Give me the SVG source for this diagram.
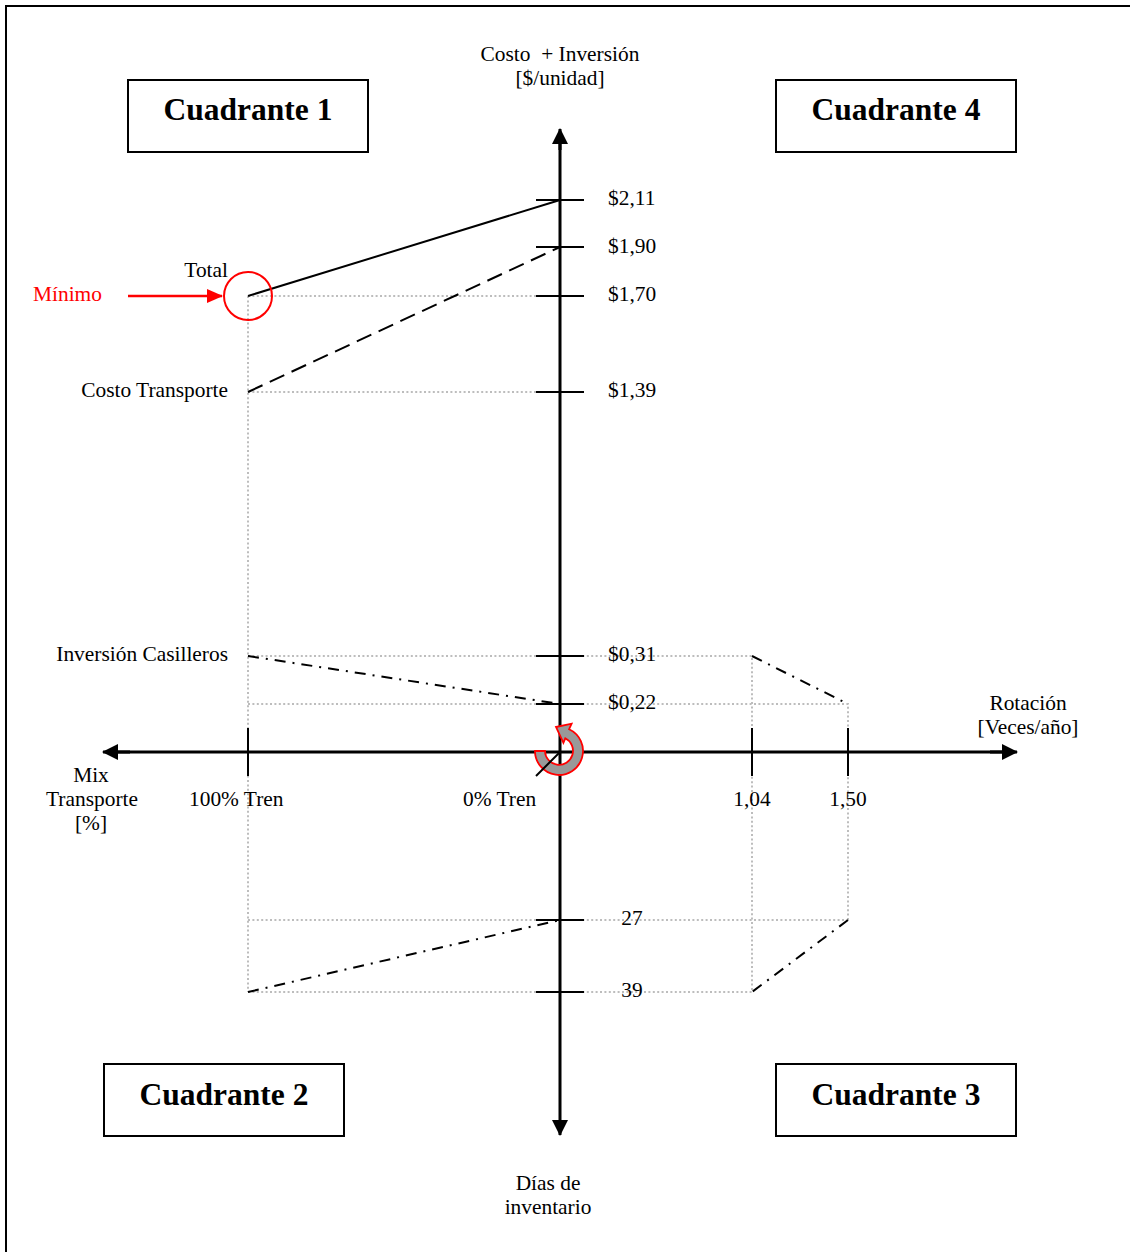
<svg xmlns="http://www.w3.org/2000/svg" width="1130" height="1252" viewBox="0 0 1130 1252">
  <style>
    text { font-family: "Liberation Serif", "Times New Roman", serif; font-size: 21.4px; fill: #000; white-space: pre; }
    .title { font-size: 31.5px; font-weight: bold; text-anchor: middle; }
    .mid { text-anchor: middle; }
    .end { text-anchor: end; }
    .red { fill: #ff0000; }
    .box { fill: #fff; stroke: #000; stroke-width: 2; }
    .axis { stroke: #000; stroke-width: 3; fill: none; }
    .tick { stroke: #000; stroke-width: 2; }
    .guide { stroke: #bdbdbd; stroke-width: 2; stroke-dasharray: 2 2.4; fill: none; }
    .solid { stroke: #000; stroke-width: 2; fill: none; }
    .dash { stroke: #000; stroke-width: 2; stroke-dasharray: 16 8; fill: none; }
    .dashdot { stroke: #000; stroke-width: 2; stroke-dasharray: 11 7 2 7; fill: none; }
  </style>
  <defs>
    <marker id="axisHead" viewBox="0 0 16 16" refX="15" refY="8" markerWidth="16" markerHeight="16" markerUnits="userSpaceOnUse" orient="auto">
      <path d="M0,0 L16,8 L0,16 Z" fill="#000"/>
    </marker>
    <marker id="redHead" viewBox="0 0 16 14" refX="15" refY="7" markerWidth="16" markerHeight="14" markerUnits="userSpaceOnUse" orient="auto">
      <path d="M0,0 L16,7 L0,14 Z" fill="#ff0000"/>
    </marker>
  </defs>

  <!-- frame -->
  <rect x="6" y="6" width="1130" height="1252" fill="#fff" stroke="#000" stroke-width="2"/>

  <!-- guide lines (projections between quadrants) -->
  <g id="guides">
    <path class="guide" d="M248,296 H536 M248,392 H536 M248,296 V992"/>
    <path class="guide" d="M248,656 H752 V992 M248,704 H848 V920"/>
    <path class="guide" d="M248,920 H848 M248,992 H752"/>
  </g>

  <!-- connectors: axes, ticks and curves -->
  <g id="connectors">
    <line class="axis" x1="560" y1="1120" x2="560" y2="143"/>
    <line class="axis" x1="560" y1="1122" x2="560" y2="1135" marker-end="url(#axisHead)"/>
    <line class="axis" x1="560" y1="150" x2="560" y2="129" marker-end="url(#axisHead)"/>
    <line class="axis" x1="118" y1="752" x2="1003" y2="752"/>
    <line class="axis" x1="130" y1="752" x2="103" y2="752" marker-end="url(#axisHead)"/>
    <line class="axis" x1="990" y1="752" x2="1017" y2="752" marker-end="url(#axisHead)"/>

    <path class="tick" d="M536,200 H584 M536,247 H584 M536,296 H584 M536,392 H584 M536,656 H584 M536,704 H584 M536,920 H584 M536,992 H584"/>
    <path class="tick" d="M248,728 V776 M752,728 V776 M848,728 V776"/>

    <line class="solid" x1="248" y1="296" x2="560" y2="200"/>
    <line class="dash" x1="248" y1="392" x2="560" y2="247"/>
    <line class="dashdot" x1="248" y1="656" x2="560" y2="704"/>
    <line class="dashdot" x1="752" y1="656" x2="848" y2="704"/>
    <line class="dashdot" x1="848" y1="920" x2="752" y2="992"/>
    <line class="dashdot" x1="248" y1="992" x2="560" y2="920"/>

    <line x1="128" y1="296" x2="222" y2="296" stroke="#ff0000" stroke-width="2.5" marker-end="url(#redHead)"/>
  </g>

  <!-- minimum marker -->
  <g id="minimo">
    <circle cx="248" cy="296" r="24" fill="none" stroke="#ff0000" stroke-width="2"/>
    <text class="red" x="33" y="301">Mínimo</text>
  </g>

  <!-- rotation symbol at the origin -->
  <g id="origen">
    <path d="M535,751 A24,24 0 1 0 569.1,729.2 L571.6,723.7 L556,727 L563.4,742.8 L565.3,738.3 A14,14 0 1 1 545,751 Z" fill="#999" stroke="#ff0000" stroke-width="1.8"/>
    <line x1="536" y1="776" x2="560" y2="752" stroke="#000" stroke-width="2"/>
  </g>

  <!-- quadrant boxes -->
  <g id="cuadrante1">
    <rect class="box" x="128" y="80" width="240" height="72"/>
    <text class="title" x="248" y="120">Cuadrante 1</text>
  </g>
  <g id="cuadrante4">
    <rect class="box" x="776" y="80" width="240" height="72"/>
    <text class="title" x="896" y="120">Cuadrante 4</text>
  </g>
  <g id="cuadrante2">
    <rect class="box" x="104" y="1064" width="240" height="72"/>
    <text class="title" x="224" y="1105">Cuadrante 2</text>
  </g>
  <g id="cuadrante3">
    <rect class="box" x="776" y="1064" width="240" height="72"/>
    <text class="title" x="896" y="1105">Cuadrante 3</text>
  </g>

  <!-- axis titles -->
  <g id="eje-costo">
    <text class="mid" x="560" y="61">Costo  + Inversión</text>
    <text class="mid" x="560" y="85">[$/unidad]</text>
  </g>
  <g id="eje-rotacion">
    <text class="mid" x="1028" y="710">Rotación</text>
    <text class="mid" x="1028" y="734">[Veces/año]</text>
  </g>
  <g id="eje-mix">
    <text class="mid" x="91" y="782">Mix</text>
    <text class="mid" x="92" y="806">Transporte</text>
    <text class="mid" x="91" y="830">[%]</text>
  </g>
  <g id="eje-dias">
    <text class="mid" x="548" y="1190">Días de</text>
    <text class="mid" x="548" y="1214">inventario</text>
  </g>

  <!-- curve labels -->
  <g id="curvas">
    <text class="end" x="228" y="277">Total</text>
    <text class="end" x="228" y="397">Costo Transporte</text>
    <text class="end" x="228" y="661">Inversión Casilleros</text>
  </g>

  <!-- tick values -->
  <g id="valores">
    <text x="608" y="205">$2,11</text>
    <text x="608" y="253">$1,90</text>
    <text x="608" y="301">$1,70</text>
    <text x="608" y="397">$1,39</text>
    <text x="608" y="661">$0,31</text>
    <text x="608" y="709">$0,22</text>
    <text class="mid" x="632" y="925">27</text>
    <text class="mid" x="632" y="997">39</text>
    <text x="189" y="806">100% Tren</text>
    <text x="463" y="806">0% Tren</text>
    <text class="mid" x="752" y="806">1,04</text>
    <text class="mid" x="848" y="806">1,50</text>
  </g>
</svg>
